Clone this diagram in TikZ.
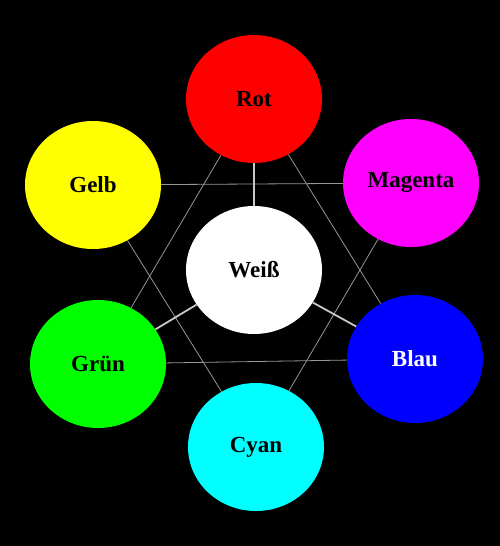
\documentclass[tikz,border=0pt]{standalone}
\usepackage{fontspec}
\setmainfont{Liberation Serif}
\usepackage{xcolor}
\usepackage{tikz}
\usetikzlibrary{shapes.geometric}

\definecolor{linie}{RGB}{150,150,150}
\definecolor{speiche}{RGB}{200,200,200}
\definecolor{rotf}{RGB}{255,0,0}
\definecolor{gelbf}{RGB}{255,255,0}
\definecolor{magentaf}{RGB}{255,0,255}
\definecolor{gruenf}{RGB}{0,255,0}
\definecolor{blauf}{RGB}{0,0,255}
\definecolor{cyanf}{RGB}{0,255,255}

\begin{document}
\begin{tikzpicture}[x=1pt,y=-1pt]
\tikzstyle{farbe}=[ellipse,inner sep=0pt,minimum width=136pt,minimum height=128pt,font=\fontsize{23}{27}\selectfont\bfseries]
\tikzstyle{duenn}=[draw=linie,line width=0.8pt]
\tikzstyle{dick}=[draw=speiche,line width=1.8pt]
\fill[black] (0,0) rectangle (500,546);
\useasboundingbox (0,0) rectangle (500,546);
\node[farbe,fill=rotf] (rot) at (254,99) {Rot};
\node[farbe,fill=gelbf] (gelb) at (93,185) {Gelb};
\node[farbe,fill=magentaf] (magenta) at (411,183) {Magenta};
\node[farbe,fill=white] (weiss) at (254,270) {Weiß};
\node[farbe,fill=gruenf] (gruen) at (98,364) {Grün};
\node[farbe,fill=blauf,text=white] (blau) at (415,359) {Blau};
\node[farbe,fill=cyanf] (cyan) at (256,447) {Cyan};
% Dreiecke
\draw[duenn] (rot)--(gruen);\draw[duenn] (gruen)--(blau);\draw[duenn] (blau)--(rot);
\draw[duenn] (gelb)--(magenta);\draw[duenn] (magenta)--(cyan);\draw[duenn] (cyan)--(gelb);
% Speichen
\draw[dick] (weiss)--(rot);\draw[dick] (weiss)--(gruen);\draw[dick] (weiss)--(blau);
\end{tikzpicture}
\end{document}
